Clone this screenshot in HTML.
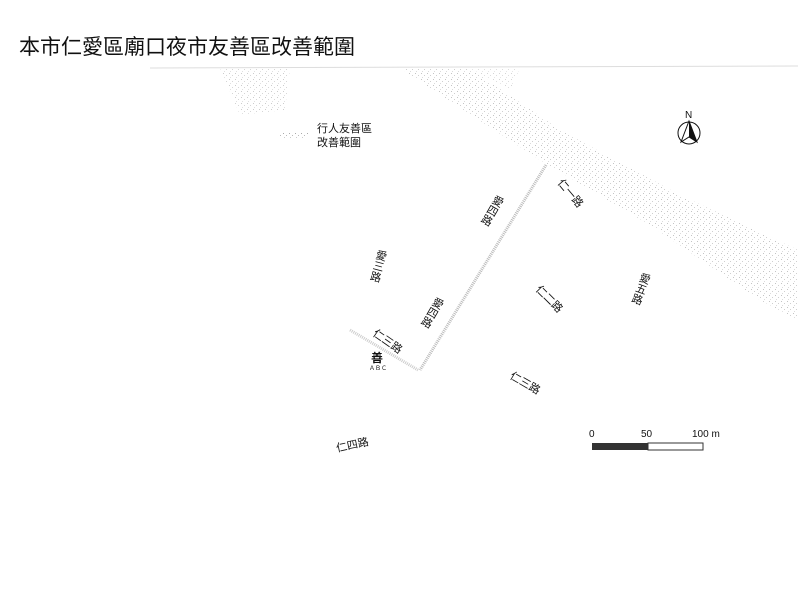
<!DOCTYPE html>
<html><head><meta charset="utf-8"><style>
html,body{margin:0;padding:0;background:#fff;width:798px;height:612px;overflow:hidden}
svg{display:block}
text{font-family:"Liberation Sans","Noto Sans CJK TC",sans-serif;fill:#111}
</style></head><body>
<svg width="798" height="612" viewBox="0 0 798 612">
<defs>
<pattern id="sp" width="6" height="6" patternUnits="userSpaceOnUse">
<rect x="1" y="1" width="1" height="1" fill="#aaa"/><rect x="4" y="3" width="1" height="1" fill="#bbb"/><rect x="2" y="5" width="1" height="1" fill="#ccc"/>
</pattern>
</defs>
<text x="19" y="54" font-size="21">本市仁愛區廟口夜市友善區改善範圍</text>
<line x1="150" y1="68" x2="798" y2="66" stroke="#ddd" stroke-width="1"/>
<polygon points="400,68 470,68 560,130 680,195 798,250 798,320 760,300 650,225 540,160" fill="url(#sp)" opacity="0.7"/>
<polygon points="220,68 290,68 285,110 240,115" fill="url(#sp)" opacity="0.6"/>
<polygon points="470,68 520,68 510,90" fill="url(#sp)" opacity="0.5"/>
<rect x="280" y="133" width="28" height="6" fill="url(#sp)"/>
<line x1="546" y1="165" x2="420" y2="370" stroke="#bbb" stroke-width="3" stroke-dasharray="1 1"/>
<line x1="350" y1="330" x2="418" y2="370" stroke="#ccc" stroke-width="3" stroke-dasharray="1 1"/>
<text x="317" y="132" font-size="11">行人友善區</text>
<text x="317" y="146" font-size="11">改善範圍</text>
<text x="685" y="118" font-size="10">N</text>
<circle cx="689" cy="133" r="11" fill="none" stroke="#111" stroke-width="1"/>
<polygon points="689,121 681,142 689,137 697,142" fill="none" stroke="#111" stroke-width="1"/>
<polygon points="689,121 689,137 697,142" fill="#111"/>
<g font-size="11">
<text transform="translate(500,196) rotate(30)" style="writing-mode:tb">愛四路</text>
<text transform="translate(440,298) rotate(30)" style="writing-mode:tb">愛四路</text>
<text transform="translate(382,250) rotate(15)" style="writing-mode:tb">愛三路</text>
<text transform="translate(646,273) rotate(20)" style="writing-mode:tb">愛五路</text>
<text transform="translate(557,183) rotate(50)">仁一路</text>
<text transform="translate(535,290) rotate(45)">仁二路</text>
<text transform="translate(372,335) rotate(35)">仁三路</text>
<text transform="translate(509,378) rotate(30)">仁三路</text>
<text transform="translate(337,452) rotate(-12)">仁四路</text>
<text x="371" y="362" font-size="12" font-weight="bold">善</text>
<text x="369" y="370" font-size="6" fill="#777">ＡＢＣ</text>
</g>
<g font-size="10">
<text x="589" y="437">0</text>
<text x="641" y="437">50</text>
<text x="692" y="437">100 m</text>
</g>
<rect x="592" y="443" width="56" height="7" fill="#333"/>
<rect x="648" y="443" width="55" height="7" fill="#fff" stroke="#333" stroke-width="1"/>
</svg>
</body></html>
